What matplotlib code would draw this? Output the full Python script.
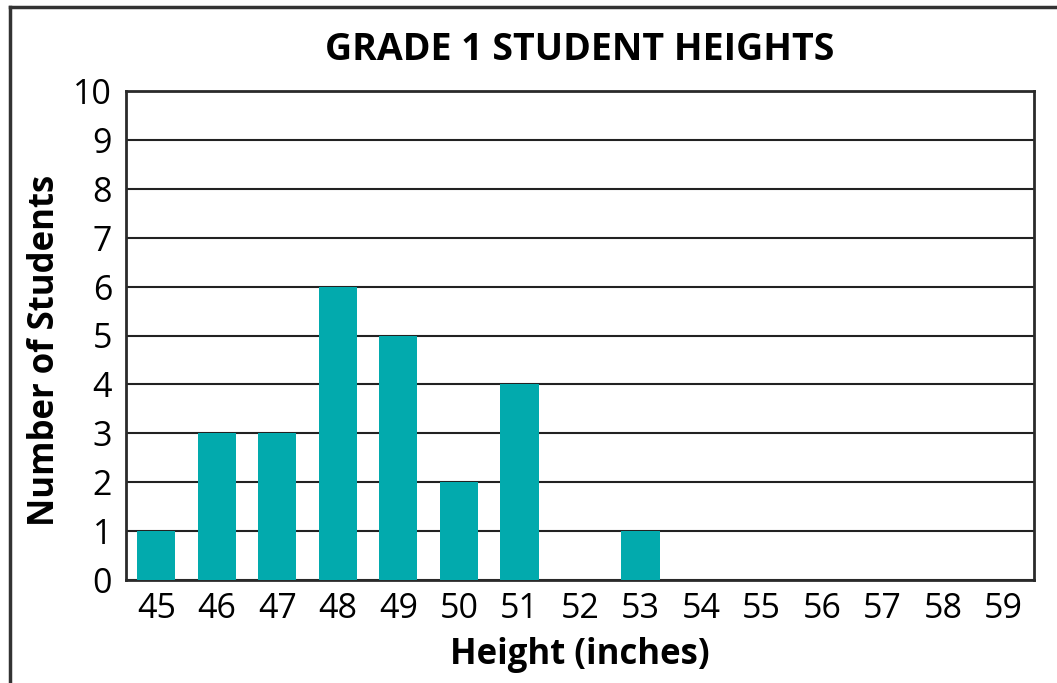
import matplotlib.pyplot as plt
from matplotlib.lines import Line2D

plt.rcParams['font.family'] = ['Open Sans', 'DejaVu Sans']

# Data
heights = ['45', '46', '47', '48', '49', '50', '51', '52', '53', '54', '55', '56', '57', '58', '59']
students = [1, 3, 3, 6, 5, 2, 4, 0, 1, 0, 0, 0, 0, 0, 0]

fig = plt.figure(figsize=(10.57, 6.83), dpi=100)
ax = fig.add_axes([126 / 1057, 1 - 580 / 683, (1034 - 126) / 1057, (580 - 91) / 683])

ax.bar(range(len(heights)), students, width=0.63, color='#02aaad', zorder=3)
ax.set_xlim(-0.5, len(heights) - 0.5)
ax.set_ylim(0, 10)
ax.set_yticks(range(0, 11))
ax.set_xticks(range(len(heights)))
ax.set_xticklabels(heights)
ax.yaxis.grid(True, color='#222222', linewidth=1.5, zorder=0)
ax.tick_params(length=0, labelsize=24.5)
ax.tick_params(axis='y', pad=10)
ax.tick_params(axis='x', pad=9)
for s in ax.spines.values():
    s.set_color('#2a2a2a')
    s.set_linewidth(2)

fig.text(580 / 1057, 1 - 50 / 683, 'GRADE 1 STUDENT HEIGHTS', ha='center', va='center',
         fontsize=27, fontweight='bold')
fig.text(45 / 1057, 1 - 350 / 683, 'Number of Students', ha='center', va='center',
         rotation=90, fontsize=25, fontweight='bold')
fig.text(580 / 1057, 1 - 655 / 683, 'Height (inches)', ha='center', va='center',
         fontsize=25, fontweight='bold')

# outer frame (left and top edges visible)
fig.add_artist(Line2D([10 / 1057, 10 / 1057], [0, 1 - 7 / 683], color='#333333', lw=2.5,
                      transform=fig.transFigure))
fig.add_artist(Line2D([10 / 1057, 1], [1 - 7 / 683, 1 - 7 / 683], color='#333333', lw=2.5,
                      transform=fig.transFigure))

fig.savefig('out.png', dpi=100)
